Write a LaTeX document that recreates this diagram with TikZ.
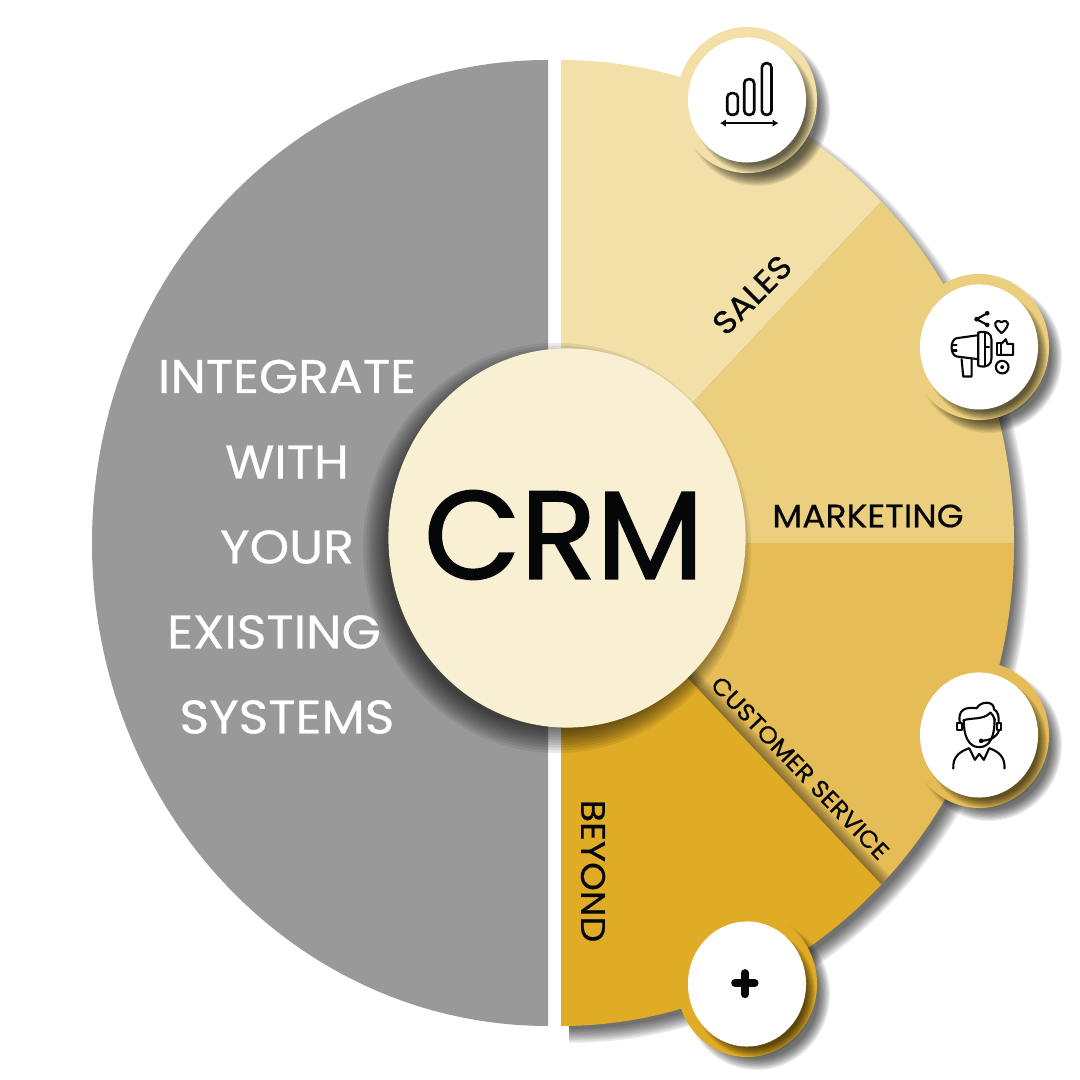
\documentclass[tikz,border=0pt]{standalone}
\usepackage{fontspec}
\setmainfont[FakeStretch=1.07,FakeBold=.6]{Poppins}
\newfontfamily\hubfont[FakeBold=1.5]{Poppins}
\usetikzlibrary{shapes.geometric,arrows.meta}
\definecolor{pale}{HTML}{F3E0A8}
\definecolor{mid}{HTML}{ECCF7E}
\definecolor{warm}{HTML}{E5BC55}
\definecolor{deep}{HTML}{E0AC25}
\definecolor{slate}{HTML}{999999}
\definecolor{cream}{HTML}{F9F0D4}
\definecolor{ink}{HTML}{050709}
\tikzset{soft/.style = {black, opacity=.08},
           ring/.style = {ellipse, minimum width=1.4cm, minimum height=1.46cm, inner sep=0pt, fill=#1},
           disc/.style = {ellipse, minimum width=1.18cm, minimum height=1.25cm, inner sep=0pt, fill=white},
           hub/.style = {ellipse, minimum width=3.57cm, minimum height=3.79cm, inner sep=0pt, fill=cream},
           side/.style = {text=white, font=\fontsize{13.4}{14}\selectfont},
           tag/.style = {text=ink, font=\fontsize{9.2}{10}\selectfont},
           glyph/.style = {draw=ink, line width=.6pt, line cap=round, line join=round},
           zoomed/.style 2 args = {shift={(#1,1080-#2)}, x=.003333cm, y=-.003333cm}}
\newcommand{\softdisc}[5]{\foreach \k in {0,...,9} {
    \fill[soft] (#1,#2) ellipse [x radius={#3+#5*(1-\k/9)}, y radius={#4+#5*(1-\k/9)}];}}
\newcommand{\slice}[3]{\fill[#1] (561,537) -- ([shift={(561,537)}]#2:453 and 483)
    arc[start angle=#2, end angle=#3, x radius=453, y radius=483] -- cycle;}
\newcommand{\iconbase}[3]{\softdisc{#1+10}{#2-10}{62}{65}{11}
    \node[ring=#3] (ring#1) at (#1,#2) {};
    \softdisc{#1+7}{#2-8}{52}{56}{9}
    \node[disc] (disc#1) at (#1,#2) {};}

\begin{document}
\begin{tikzpicture}[x=.01cm, y=.01cm]
    \useasboundingbox (0,0) rectangle (1080,1080);
    \fill[slate] (548,1020) arc[start angle=90, end angle=270, x radius=456, y radius=483] -- cycle;
    % sector shadow
    \foreach \k in {0,...,9} {
      \fill[soft] (569,527) -- (569,{1003+14*(1-\k/9)})
        arc[start angle=90, end angle=-90, x radius={446+14*(1-\k/9)}, y radius={476+14*(1-\k/9)}] -- cycle;}
    \slice{pale}{90}{45}
    \slice{mid}{45}{0}
    \slice{warm}{0}{-45}
    \begin{scope}
      \clip (561,537) -- ([shift={(561,537)}]0:453 and 483) arc[start angle=0, end angle=-45, x radius=453, y radius=483] -- cycle;
      \foreach \k in {0,...,7} {
        \draw[soft, opacity=.06, line width={(24-3*\k)*.2845pt}] (561,537) -- ([shift={(561,537)}]-45:453 and 483);}
    \end{scope}
    \slice{deep}{-45}{-90}
    % hub
    \softdisc{557}{532}{170}{181}{24}
    \node[hub] (crmhub) at (567,542) {};
    \node[text=ink, font=\hubfont\fontsize{35.5}{38}\selectfont] (crm) at (564,545) {CRM};
    % left column
    \node[side] (integrate) at (287,703.5) {INTEGRATE};
    \node[side] (with) at (287,618) {WITH};
    \node[side] (your) at (287,533) {YOUR};
    \node[side] (existing) at (274,448) {EXISTING};
    \node[side] (systems) at (287,363) {SYSTEMS};
    % slice labels
    \node[tag, rotate=45] (sales) at (752,785) {SALES};
    \node[tag] (marketing) at (868,564) {MARKETING};
    \node[tag, rotate=-46, font=\fontsize{6.8}{7}\selectfont] (customer) at (800,312) {CUSTOMER SERVICE};
    \node[tag, rotate=-90, font=\fontsize{9.7}{10}\selectfont] (beyond) at (593,209) {BEYOND};
    % icon discs
    \iconbase{747}{980}{pale}
    \iconbase{979}{733}{mid}
    \iconbase{979}{345}{warm}
    \iconbase{747}{96}{deep}
    % bars
    \begin{scope}[zoomed={660}{10}]
      \draw[glyph, rounded corners=1.2pt, line width=.75pt] (202,250) rectangle (234,315);
      \draw[glyph, rounded corners=1.2pt, line width=.75pt] (253,208) rectangle (283,315);
      \draw[glyph, rounded corners=1.2pt, line width=.75pt] (306,160) rectangle (335,315);
      \draw[glyph, line width=.75pt, {Latex[length=1.7pt,width=2.2pt]}-{Latex[length=1.7pt,width=2.2pt]}] (180,340) -- (356,340);
    \end{scope}
    % megaphone
    \begin{scope}[zoomed={900}{260}]
      \draw[glyph] (235,226) -- (170,235) .. controls (150,240) and (150,285) .. (170,290) -- (235,298);
      \draw[glyph] (235,218) .. controls (260,212) and (275,220) .. (275,240) -- (275,295) .. controls (275,315) and (260,325) .. (235,318) -- cycle;
      \draw[glyph] (255,218) -- (255,320);
      \draw[glyph] (255,262) -- (268,262);
      \draw[glyph] (160,255) -- (170,255) (160,272) -- (170,272);
      \draw[glyph] (185,298) -- (190,350) -- (215,350) -- (215,298);
      \draw[glyph] (262,160) -- (230,178) -- (262,195);
      \fill[ink] (262,160) circle (7) (230,178) circle (7) (262,195) circle (7);
      \draw[glyph] (305,220) .. controls (275,195) and (285,175) .. (305,187) .. controls (325,175) and (335,195) .. (305,220) -- cycle;
      \draw[glyph] (292,250) rectangle (304,285);
      \draw[glyph] (304,252) -- (318,238) -- (322,252) -- (340,252) -- (340,285) -- (304,285);
      \draw[glyph] (307,322) circle (19);
      \fill[ink] (307,322) circle (6);
    \end{scope}
    % agent
    \begin{scope}[zoomed={900}{660}]
      \draw[glyph] (192,180) .. controls (190,225) and (205,262) .. (238,262) .. controls (272,262) and (285,225) .. (284,178);
      \draw[glyph] (190,182) .. controls (210,172) and (250,182) .. (272,158) .. controls (278,165) and (282,170) .. (285,180);
      \draw[glyph] (180,190) .. controls (172,150) and (195,140) .. (230,145) .. controls (245,120) and (285,125) .. (282,148) .. controls (295,155) and (298,170) .. (296,190);
      \draw[glyph] (172,190) rectangle (185,210);
      \draw[glyph] (291,190) rectangle (304,210);
      \draw[glyph] (298,210) .. controls (290,235) and (270,240) .. (248,243);
      \fill[ink] (244,243) circle (7);
      \draw[glyph] (160,326) .. controls (158,290) and (180,275) .. (208,265) -- (225,300) -- (238,282) -- (252,300) -- (268,265) .. controls (295,275) and (316,290) .. (314,326);
    \end{scope}
    % plus
    \begin{scope}[zoomed={660}{660}]
      \draw[ink, line width=2.1pt, line cap=round] (225,970) -- (285,970) (255,940) -- (255,1005);
    \end{scope}
\end{tikzpicture}
\end{document}
